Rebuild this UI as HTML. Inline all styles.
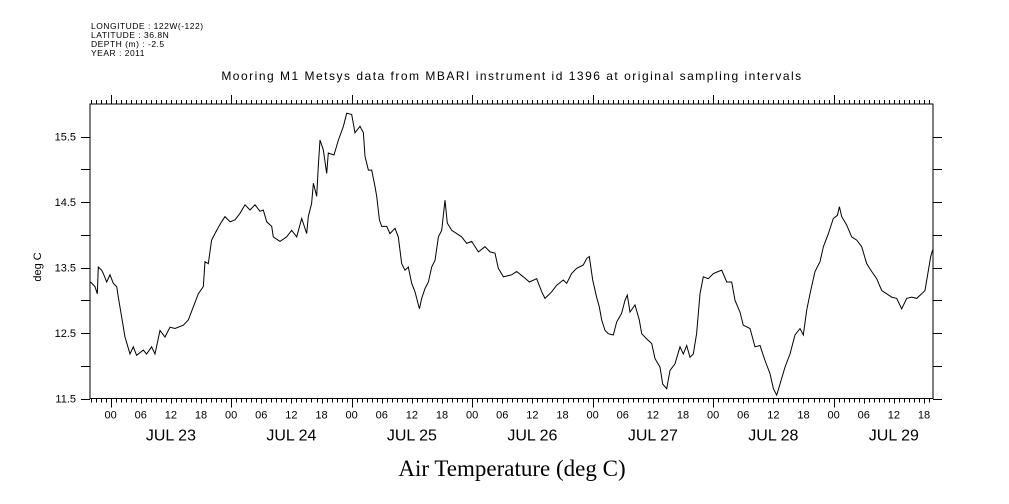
<!DOCTYPE html>
<html><head><meta charset="utf-8"><style>
html,body{margin:0;padding:0;background:#fff;}
svg{display:block;font-family:"Liberation Sans",sans-serif;}
</style></head><body>
<svg id="chart" width="1009" height="504" viewBox="0 0 1009 504">
<g font-size="8.5" fill="#000" letter-spacing="0.5">
<text x="91" y="29">LONGITUDE : 122W(-122)</text>
<text x="91" y="38">LATITUDE : 36.8N</text>
<text x="91" y="47">DEPTH (m) : -2.5</text>
<text x="91" y="56">YEAR : 2011</text>
</g>
<text x="512" y="80" text-anchor="middle" font-size="12" letter-spacing="1.5">Mooring M1 Metsys data from MBARI instrument id 1396 at original sampling intervals</text>
<text transform="translate(41,267) rotate(-90)" text-anchor="middle" font-size="11">deg C</text>
<text x="512" y="476" text-anchor="middle" font-size="23" font-family="'Liberation Serif',serif">Air Temperature (deg C)</text>
<g id="axes"></g>
<g id="series"></g>
</svg>
<script>
const hours = [-4.0,-3.13,-2.66,-2.46,-1.8,-1.47,-0.8,-0.14,0.52,1.19,1.52,2.18,2.85,3.84,4.51,5.17,6.5,7.16,8.16,8.82,9.82,10.82,11.81,12.81,14.47,15.46,16.46,17.46,18.45,18.78,19.45,20.11,21.11,22.1,22.77,23.76,24.76,25.76,26.75,27.75,28.74,29.74,30.4,31.07,32.07,32.4,33.73,35.05,36.05,37.05,38.04,39.04,39.37,40.03,40.37,41.03,41.36,41.69,42.36,43.02,43.35,44.49,45.35,46.35,47.01,48.0,48.67,49.67,50.33,50.66,51.33,52.0,52.65,52.99,53.52,53.98,54.98,55.64,56.64,57.3,57.97,58.63,59.29,59.96,60.62,61.49,61.95,62.61,63.28,63.94,64.61,65.27,65.93,66.6,67.06,67.93,68.92,69.92,70.91,71.91,73.24,74.57,75.56,76.56,77.22,78.22,79.88,80.88,82.2,83.4,84.85,85.85,86.51,87.84,88.83,90.16,90.83,91.82,92.82,94.15,94.81,95.34,96.01,96.8,97.33,97.8,98.46,99.13,100.12,100.79,101.78,102.45,102.91,103.44,104.44,105.3,105.77,106.76,107.76,108.42,109.42,109.95,110.75,111.41,112.41,113.4,114.07,114.73,115.4,116.06,116.72,117.39,118.05,119.05,120.05,121.04,121.71,122.7,123.7,124.36,125.36,126.02,127.35,128.35,129.34,130.34,131.33,132.0,132.66,133.33,134.32,135.32,136.31,137.31,137.97,138.64,139.3,140.3,141.29,141.96,142.96,143.95,144.75,145.15,145.61,146.61,147.61,148.6,149.6,150.59,151.59,152.58,153.58,154.58,155.57,156.57,157.56,158.56,159.56,160.55,161.55,162.21,162.88,163.34,163.74];
const temps = [13.28,13.21,13.10,13.51,13.46,13.41,13.28,13.39,13.26,13.21,13.05,12.75,12.44,12.18,12.29,12.16,12.24,12.18,12.29,12.18,12.54,12.44,12.59,12.57,12.62,12.70,12.90,13.10,13.21,13.59,13.56,13.92,14.07,14.20,14.28,14.20,14.23,14.33,14.46,14.38,14.46,14.36,14.38,14.20,14.13,13.97,13.90,13.97,14.07,13.97,14.25,14.02,14.28,14.48,14.79,14.59,15.05,15.45,15.30,14.94,15.25,15.22,15.45,15.66,15.86,15.84,15.56,15.66,15.56,15.20,14.99,14.99,14.74,14.59,14.23,14.13,14.13,14.02,14.10,13.97,13.56,13.46,13.51,13.26,13.13,12.87,13.03,13.18,13.28,13.51,13.61,13.97,14.07,14.53,14.18,14.07,14.02,13.97,13.87,13.90,13.74,13.82,13.74,13.72,13.49,13.36,13.39,13.44,13.36,13.28,13.33,13.13,13.03,13.13,13.23,13.31,13.26,13.41,13.49,13.54,13.64,13.67,13.31,13.05,12.90,12.70,12.54,12.49,12.47,12.67,12.80,13.00,13.08,12.82,12.93,12.70,12.49,12.41,12.34,12.11,11.98,11.72,11.65,11.93,12.03,12.29,12.18,12.31,12.13,12.18,12.49,13.10,13.36,13.33,13.41,13.44,13.46,13.28,13.28,13.00,12.82,12.62,12.57,12.29,12.31,12.08,11.88,11.65,11.55,11.72,11.98,12.18,12.47,12.57,12.47,12.85,13.10,13.44,13.59,13.82,14.02,14.25,14.30,14.43,14.28,14.15,13.97,13.92,13.82,13.56,13.44,13.33,13.15,13.10,13.05,13.03,12.87,13.03,13.05,13.03,13.10,13.15,13.46,13.67,13.77];
const yTickValues = [12.0,12.5,13.0,13.5,14.0,14.5,15.0,15.5];
const yTickLabels = ["11.5","12.5","13.5","14.5","15.5"];
const hourLabels = ["00","06","12","18"];
const dayLabels = ["JUL 23","JUL 24","JUL 25","JUL 26","JUL 27","JUL 28","JUL 29"];

const L=90,R=933,T=104,B=398.5;
const hMin=-4.12,hMax=163.8,vMin=11.5,vMax=16.0;
const xs=h=>L+(h-hMin)/(hMax-hMin)*(R-L);
const ys=v=>B-(v-vMin)/(vMax-vMin)*(B-T);
const NS="http://www.w3.org/2000/svg";
const axes=document.getElementById('axes');
function line(x1,y1,x2,y2){const l=document.createElementNS(NS,'line');l.setAttribute('x1',x1);l.setAttribute('y1',y1);l.setAttribute('x2',x2);l.setAttribute('y2',y2);l.setAttribute('stroke','#000');l.setAttribute('stroke-width','1');axes.appendChild(l);return l;}
function txt(x,y,s,size,anchor){const t=document.createElementNS(NS,'text');t.setAttribute('x',x);t.setAttribute('y',y);t.setAttribute('font-size',size);t.setAttribute('text-anchor',anchor);t.textContent=s;axes.appendChild(t);return t;}
let f=document.createElementNS(NS,'rect');
f.setAttribute('x',L);f.setAttribute('y',T);f.setAttribute('width',R-L);f.setAttribute('height',B-T);
f.setAttribute('fill','none');f.setAttribute('stroke','#000');


axes.appendChild(f);
for(let h=Math.ceil(hMin);h<=hMax;h++){
  const x=Math.round(xs(h))+0.5;
  const major=(h%24===0);
  let a=line(x,B,x,B+(major?9:(h%6===0?5:4)));
  
  
  let b=line(x,T,x,T-(major?9:4));
  
  
  if(h>=0&&h%6===0){
    let t=txt(xs(h),B+20,hourLabels[(h/6)%4],11,'middle');
    
    
  }
}
dayLabels.forEach((d,i)=>{
  let t=txt(xs(i*24+12),B+42,d,16,'middle');
  
  
});
[11.5].concat(yTickValues).forEach(v=>{
  const y=Math.round(ys(v))+0.5;
  let a=line(L-9,y,L,y);
  
  
  let b=line(R,y,R+9,y);
  
  
});
yTickLabels.forEach(s=>{
  let t=txt(L-14,ys(parseFloat(s))+4,s,11,'end');
  
  
});
const p=document.createElementNS(NS,'polyline');
p.setAttribute('points',hours.map((h,i)=>xs(h).toFixed(1)+','+ys(temps[i]).toFixed(1)).join(' '));
p.setAttribute('fill','none');p.setAttribute('stroke','#000');p.setAttribute('stroke-width','1');


document.getElementById('series').appendChild(p);
</script>
</body></html>
